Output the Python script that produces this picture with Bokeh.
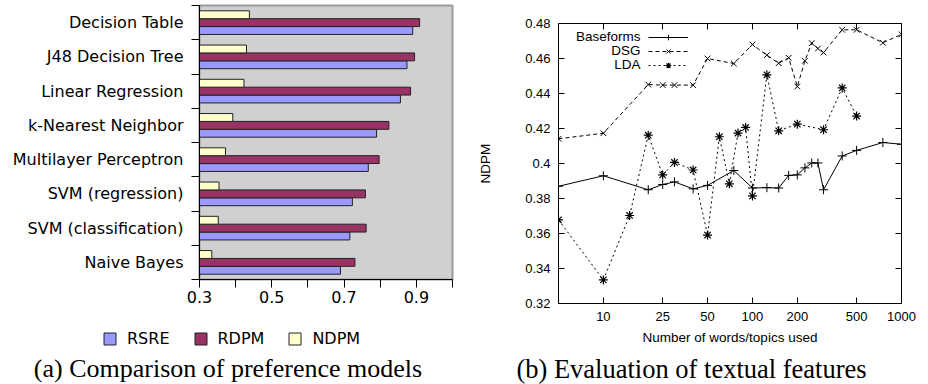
from bokeh.plotting import figure
from bokeh.models import (ColumnDataSource, FixedTicker, Range1d, LinearAxis, LogAxis,
                          Legend, LegendItem, Label)
from bokeh.embed import file_html
from bokeh.resources import INLINE

# ---------------- data: panel (a) ----------------
models = ["Decision Table", "J48 Decision Tree", "Linear Regression", "k-Nearest Neighbor",
          "Multilayer Perceptron", "SVM (regression)", "SVM (classification)", "Naive Bayes"]
rsre = [0.890, 0.874, 0.856, 0.790, 0.767, 0.723, 0.716, 0.690]
rdpm = [0.909, 0.895, 0.884, 0.824, 0.797, 0.759, 0.761, 0.730]
ndpm = [0.438, 0.430, 0.423, 0.392, 0.372, 0.354, 0.352, 0.334]
measure_names = ["RSRE", "RDPM", "NDPM"]
a_x_ticks = [0.3, 0.4, 0.5, 0.6, 0.7, 0.8, 0.9, 1.0]
a_x_tick_labels = ["0.3", "", "0.5", "", "0.7", "", "0.9", ""]

# ---------------- data: panel (b) ----------------
base_n = [5, 10, 20, 25, 30, 40, 50, 75, 100, 125, 150, 175, 200, 225, 250, 275, 300, 400, 500, 750, 1000]
base_v = [0.387, 0.393, 0.385, 0.388, 0.3895, 0.3855, 0.3875, 0.396, 0.386, 0.3862, 0.386, 0.3932,
          0.3935, 0.3975, 0.4003, 0.4003, 0.3850, 0.4043, 0.4075, 0.412, 0.411]
dsg_n = [5, 10, 20, 25, 30, 40, 50, 75, 100, 125, 150, 175, 200, 225, 250, 275, 300, 400, 500, 750, 1000]
dsg_v = [0.4141, 0.4173, 0.4451, 0.4448, 0.4448, 0.4448, 0.460, 0.4571, 0.468, 0.4619, 0.4573, 0.4604,
         0.444, 0.4587, 0.4688, 0.4657, 0.4634, 0.4764, 0.4764, 0.469, 0.4738]
lda_n = [5, 10, 15, 20, 25, 30, 40, 50, 60, 70, 80, 90, 100, 125, 150, 200, 300, 400, 500]
lda_v = [0.3678, 0.3335, 0.3703, 0.4162, 0.3935, 0.4006, 0.3963, 0.3591, 0.4153, 0.3884, 0.4174,
         0.4206, 0.3815, 0.4507, 0.4187, 0.4225, 0.4193, 0.4432, 0.4271]
series_names = ["Baseforms", "DSG", "LDA"]
b_x_ticks = [10, 25, 50, 100, 200, 500, 1000]
b_x_tick_labels = ["10", "25", "50", "100", "200", "500", "1000"]
b_y_ticks = [0.32, 0.34, 0.36, 0.38, 0.40, 0.42, 0.44, 0.46, 0.48]
b_y_tick_labels = ["0.32", "0.34", "0.36", "0.38", "0.4", "0.42", "0.44", "0.46", "0.48"]

caption_a = "(a) Comparison of preference models"
caption_b = "(b) Evaluation of textual features"

SANS_A = "DejaVu Sans"
SANS_B = "Liberation Sans"
SERIF = "Liberation Serif"
bar_colors = ["#9999ff", "#993366", "#ffffcc"]
bar_line = "#222222"

# ================= panel (a) =================
n = len(models)
centers = [n - 1 - i + 0.5 for i in range(n)]
bounds = [float(i) for i in range(n + 1)]
bh = 0.23

pl = figure(width=466, height=380, x_range=Range1d(0.3, 1.0), y_range=Range1d(0, n),
            output_backend="svg", toolbar_location=None, title=None,
            min_border_left=195, min_border_right=18, min_border_top=2, min_border_bottom=104)
pl.styles = {"position": "absolute", "left": "4px", "top": "3px"}
pl.background_fill_color = "#d0d0d0"
pl.border_fill_color = "white"
pl.outline_line_color = "#9a9a9a"
pl.outline_line_width = 2
pl.grid.visible = False

src = ColumnDataSource(dict(
    y_rsre=[c - bh for c in centers],
    y_rdpm=[c for c in centers],
    y_ndpm=[c + bh for c in centers],
    rsre=rsre, rdpm=rdpm, ndpm=ndpm))
bar_cols = [("y_rsre", "rsre"), ("y_rdpm", "rdpm"), ("y_ndpm", "ndpm")]

for (yc, xc), col in zip(bar_cols, bar_colors):
    pl.hbar(y=yc, right=xc, left=0.3, height=bh, source=src,
            fill_color=col, line_color=bar_line, line_width=1)

major_x = [t for t, l in zip(a_x_ticks, a_x_tick_labels) if l]
minor_x = [t for t, l in zip(a_x_ticks, a_x_tick_labels) if not l]
xa = pl.xaxis[0]
xa.ticker = FixedTicker(ticks=major_x, minor_ticks=minor_x)
xa.major_label_overrides = {t: l for t, l in zip(a_x_ticks, a_x_tick_labels) if l}
xa.major_tick_out = 8
xa.major_tick_in = 0
xa.minor_tick_out = 8
xa.minor_tick_in = 0
xa.minor_tick_line_color = "black"
xa.axis_line_color = "black"
xa.major_tick_line_color = "black"
xa.major_label_text_font = SANS_A
xa.major_label_text_font_size = "16px"
xa.major_label_text_color = "black"
xa.major_label_standoff = 3

ya = pl.yaxis[0]
ya.ticker = FixedTicker(ticks=centers, minor_ticks=bounds)
ya.major_label_overrides = {c: m for c, m in zip(centers, models)}
ya.major_tick_line_color = None
ya.major_tick_out = 8
ya.major_tick_in = 0
ya.minor_tick_out = 8
ya.minor_tick_in = 0
ya.minor_tick_line_color = "black"
ya.axis_line_color = "black"
ya.major_label_text_font = SANS_A
ya.major_label_text_font_size = "16px"
ya.major_label_text_color = "black"
ya.major_label_standoff = 8

# ================= panel (b) =================
pr = figure(width=450, height=380, x_axis_type="log", x_range=Range1d(5, 1000),
            y_range=Range1d(0.32, 0.48), output_backend="svg", toolbar_location=None, title=None,
            min_border_left=88, min_border_right=19, min_border_top=20, min_border_bottom=80)
pr.styles = {"position": "absolute", "left": "470px", "top": "3px"}
pr.grid.visible = False
pr.outline_line_color = "black"
pr.outline_line_width = 1
pr.background_fill_color = "white"

bsrc = ColumnDataSource(dict(n=base_n, v=base_v))
dsrc = ColumnDataSource(dict(n=dsg_n, v=dsg_v))
lsrc = ColumnDataSource(dict(n=lda_n, v=lda_v))

lb = pr.line("n", "v", source=bsrc, line_color="black", line_width=1)
sb = pr.scatter("n", "v", source=bsrc, marker="cross", size=9, line_color="black", line_width=1)
ld = pr.line("n", "v", source=dsrc, line_color="black", line_width=1, line_dash="4 3")
sd = pr.scatter("n", "v", source=dsrc, marker="x", size=8, line_color="black", line_width=1)
ll = pr.line("n", "v", source=lsrc, line_color="black", line_width=1, line_dash="2 3")
sl = pr.scatter("n", "v", source=lsrc, marker="asterisk", size=9, line_color="black", line_width=1.2)

bx = pr.xaxis[0]
bx.ticker = FixedTicker(ticks=b_x_ticks)
bx.major_label_overrides = {t: l for t, l in zip(b_x_ticks, b_x_tick_labels)}
by = pr.yaxis[0]
by.ticker = FixedTicker(ticks=b_y_ticks)
by.major_label_overrides = {t: l for t, l in zip(b_y_ticks, b_y_tick_labels)}

top_ax = LogAxis(ticker=FixedTicker(ticks=b_x_ticks))
right_ax = LinearAxis(ticker=FixedTicker(ticks=b_y_ticks))
pr.add_layout(top_ax, "above")
pr.add_layout(right_ax, "right")

for ax in (bx, by, top_ax, right_ax):
    ax.axis_line_color = None
    ax.major_tick_in = 6
    ax.major_tick_out = 0
    ax.minor_tick_line_color = None
    ax.major_tick_line_color = "black"
    ax.major_label_text_font = SANS_B
    ax.major_label_text_font_size = "13px"
    ax.major_label_text_color = "black"
for ax in (top_ax, right_ax):
    ax.major_label_text_color = None
    ax.major_label_text_font_size = "1px"
    ax.major_label_standoff = 0

bx.major_label_standoff = 8
by.major_label_standoff = 8
bx.axis_label = "Number of words/topics used"
by.axis_label = "NDPM"
for ax in (bx, by):
    ax.axis_label_text_font = SANS_B
    ax.axis_label_text_font_size = "13.5px"
    ax.axis_label_text_font_style = "normal"
    ax.axis_label_text_color = "black"
bx.axis_label_standoff = 6
by.axis_label_standoff = 29

leg_b = Legend(items=[LegendItem(label=" ", renderers=[lb, sb]),
                      LegendItem(label=" ", renderers=[ld, sd]),
                      LegendItem(label=" ", renderers=[ll, sl])],
               location=(90, 231.5), orientation="vertical",
               glyph_width=40, glyph_height=14, label_width=0, label_height=14,
               label_standoff=0, spacing=0, padding=0, margin=0,
               border_line_color=None, background_fill_alpha=0,
               label_text_font_size="1px", label_text_color=None)
pr.add_layout(leg_b, "center")

for i, name in enumerate(series_names):
    pr.add_layout(Label(x=82, y=267 - 14.2 * i, x_units="screen", y_units="screen", text=name,
                        text_align="right", text_baseline="middle", text_font=SANS_B,
                        text_font_size="13.5px", text_color="black"))

# ============ captions + legend of panel (a) (overlay strip) ============
cap = figure(width=928, height=66, x_range=Range1d(10, 11), y_range=Range1d(-10, -9),
             output_backend="svg", toolbar_location=None, title=None,
             x_axis_location=None, y_axis_location=None, min_border=0)
cap.styles = {"position": "absolute", "left": "0px", "top": "318px"}
cap.grid.visible = False
cap.outline_line_color = None
cap.background_fill_color = None
cap.border_fill_color = None

# legend proxies: the same bars, hidden (only their legend swatches are shown)
proxies = [cap.hbar(y=yc, right=xc, left=0.3, height=bh, source=src, visible=False,
                    fill_color=col, line_color=bar_line, line_width=1)
           for (yc, xc), col in zip(bar_cols, bar_colors)]
leg_a = Legend(items=[LegendItem(label=nm, renderers=[r]) for nm, r in zip(measure_names, proxies)],
               orientation="horizontal", location=(102, 36),
               glyph_width=15, glyph_height=15, label_standoff=10, spacing=23,
               padding=0, margin=0, border_line_color=None, background_fill_alpha=0,
               inactive_fill_alpha=0,
               label_text_font=SANS_A, label_text_font_size="16px", label_height=15,
               label_text_color="black")
cap.add_layout(leg_a, "center")

cap.add_layout(Label(x=227.5, y=16, x_units="screen", y_units="screen", text=caption_a,
                     text_align="center", text_baseline="middle", text_font=SERIF,
                     text_font_size="26px", text_color="black"))
cap.add_layout(Label(x=691, y=16, x_units="screen", y_units="screen", text=caption_b,
                     text_align="center", text_baseline="middle", text_font=SERIF,
                     text_font_size="26.5px", text_color="black"))

with open("out.html", "w") as f:
    f.write(file_html([pl, pr, cap], INLINE))
